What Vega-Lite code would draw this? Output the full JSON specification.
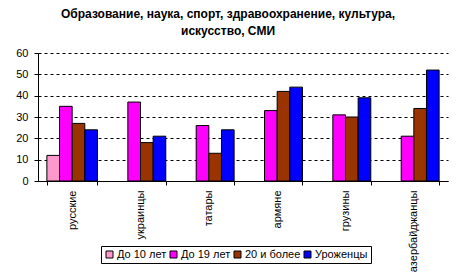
{
  "$schema": "https://vega.github.io/schema/vega-lite/v6.json",
  "width": 410,
  "height": 128,
  "autosize": "none",
  "padding": {"left": 38, "top": 53, "right": 15, "bottom": 96},
  "background": "white",
  "title": {
    "text": ["Образование, наука, спорт, здравоохранение, культура,", "искусство, СМИ"],
    "font": "Liberation Sans",
    "fontSize": 12,
    "fontWeight": "bold",
    "color": "black",
    "lineHeight": 17,
    "anchor": "middle",
    "dx": -15,
    "offset": 9
  },
  "data": {
    "values": [
      {"group": "русские", "cat": "До 10 лет", "v": 12},
      {"group": "русские", "cat": "До 19 лет", "v": 35},
      {"group": "русские", "cat": "20 и более", "v": 27},
      {"group": "русские", "cat": "Уроженцы", "v": 24},
      {"group": "украинцы", "cat": "До 19 лет", "v": 37},
      {"group": "украинцы", "cat": "20 и более", "v": 18},
      {"group": "украинцы", "cat": "Уроженцы", "v": 21},
      {"group": "татары", "cat": "До 19 лет", "v": 26},
      {"group": "татары", "cat": "20 и более", "v": 13},
      {"group": "татары", "cat": "Уроженцы", "v": 24},
      {"group": "армяне", "cat": "До 19 лет", "v": 33},
      {"group": "армяне", "cat": "20 и более", "v": 42},
      {"group": "армяне", "cat": "Уроженцы", "v": 44},
      {"group": "грузины", "cat": "До 19 лет", "v": 31},
      {"group": "грузины", "cat": "20 и более", "v": 30},
      {"group": "грузины", "cat": "Уроженцы", "v": 39},
      {"group": "азербайджанцы", "cat": "До 19 лет", "v": 21},
      {"group": "азербайджанцы", "cat": "20 и более", "v": 34},
      {"group": "азербайджанцы", "cat": "Уроженцы", "v": 52}
    ]
  },
  "mark": {"type": "bar", "stroke": "black", "strokeWidth": 1, "strokeOpacity": 1},
  "encoding": {
    "x": {
      "field": "group",
      "type": "nominal",
      "sort": ["русские", "украинцы", "татары", "армяне", "грузины", "азербайджанцы"],
      "scale": {"paddingInner": 0.26, "paddingOuter": 0.13},
      "axis": {
        "title": null,
        "labelAngle": -90,
        "labelAlign": "right",
        "labelBaseline": "middle",
        "labelFont": "Liberation Sans",
        "labelFontSize": 11,
        "labelColor": "black",
        "labelPadding": 5,
        "tickBand": "extent",
        "tickColor": "black",
        "tickSize": 4,
        "domainColor": "black",
        "grid": false
      }
    },
    "xOffset": {
      "field": "cat",
      "type": "nominal",
      "sort": ["До 10 лет", "До 19 лет", "20 и более", "Уроженцы"],
      "scale": {"paddingInner": 0, "paddingOuter": 0}
    },
    "y": {
      "field": "v",
      "type": "quantitative",
      "scale": {"domain": [0, 60]},
      "axis": {
        "title": null,
        "values": [0, 10, 20, 30, 40, 50, 60],
        "labelFont": "Liberation Sans",
        "labelFontSize": 11,
        "labelColor": "black",
        "labelPadding": 6,
        "tickColor": "black",
        "tickSize": 4,
        "domainColor": "black",
        "grid": true,
        "gridColor": "black",
        "gridDash": [3, 3],
        "gridWidth": 1
      }
    },
    "color": {
      "field": "cat",
      "type": "nominal",
      "sort": ["До 10 лет", "До 19 лет", "20 и более", "Уроженцы"],
      "scale": {
        "domain": ["До 10 лет", "До 19 лет", "20 и более", "Уроженцы"],
        "range": ["#FF99CC", "#FF00FF", "#993300", "#0000FF"]
      },
      "legend": {
        "title": null,
        "orient": "none",
        "direction": "horizontal",
        "legendX": 63,
        "legendY": 193,
        "strokeColor": "black",
        "padding": 3,
        "symbolType": "square",
        "symbolSize": 49,
        "symbolStrokeColor": "black",
        "symbolStrokeWidth": 1,
        "symbolOpacity": 1,
        "labelFont": "Liberation Sans",
        "labelFontSize": 11,
        "labelColor": "black",
        "labelOffset": 2,
        "columnPadding": 1
      }
    }
  },
  "config": {
    "view": {"stroke": null},
    "axis": {"domainWidth": 1, "tickWidth": 1}
  }
}
